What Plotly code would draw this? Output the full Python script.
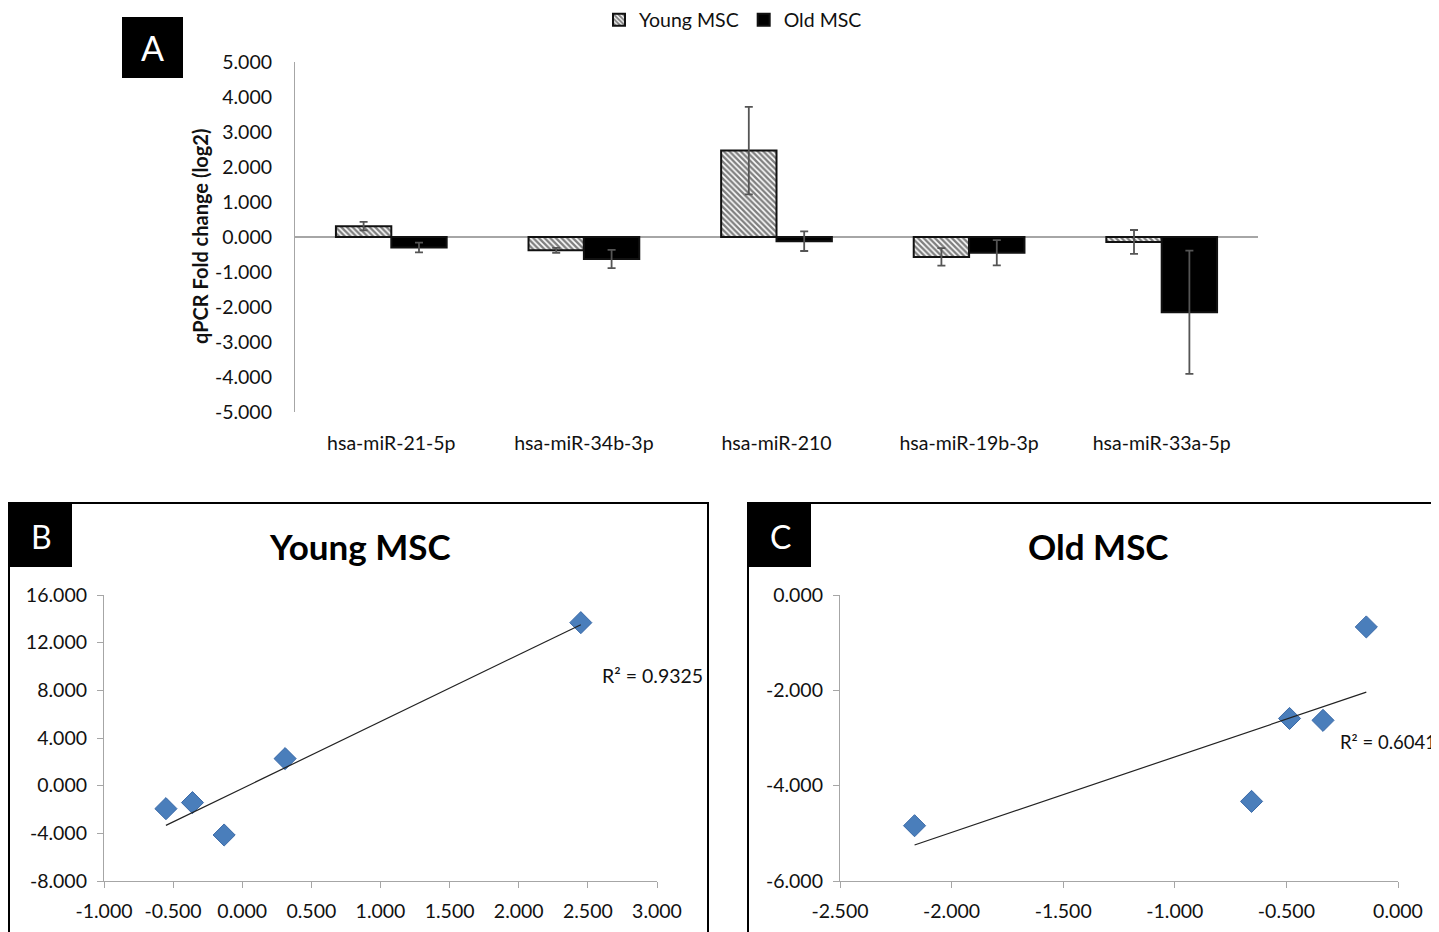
import numpy as np
import plotly.graph_objects as go

W, H = 1439, 932
FONT = "Lato"
OFF = 8  # page body margin of the browser

# ---- Data: panel A ----
categories = ["hsa-miR-21-5p", "hsa-miR-34b-3p", "hsa-miR-210", "hsa-miR-19b-3p", "hsa-miR-33a-5p"]
young = [0.31, -0.38, 2.47, -0.57, -0.14]
young_err = [0.12, 0.07, 1.25, 0.25, 0.34]
old = [-0.30, -0.63, -0.12, -0.45, -2.15]
old_err = [0.14, 0.26, 0.28, 0.36, 1.76]
a_yticks = [5, 4, 3, 2, 1, 0, -1, -2, -3, -4, -5]

# ---- Data: panel B (Young MSC) ----
b_x = [-0.552, -0.36, -0.131, 0.31, 2.449]
b_y = [-1.93, -1.42, -4.14, 2.27, 13.68]
b_xticks = [-1.0, -0.5, 0.0, 0.5, 1.0, 1.5, 2.0, 2.5, 3.0]
b_yticks = [-8, -4, 0, 4, 8, 12, 16]
b_r2 = "R² = 0.9325"

# ---- Data: panel C (Old MSC) ----
c_x = [-2.166, -0.656, -0.486, -0.336, -0.142]
c_y = [-4.84, -4.33, -2.59, -2.63, -0.67]
c_xticks = [-2.5, -2.0, -1.5, -1.0, -0.5, 0.0]
c_yticks = [-6, -4, -2, 0]
c_r2 = "R² = 0.6041"


def px_x(p):
    return (p - OFF) / W


def px_y(p):
    return 1 - (p - OFF) / H


def fmt(v):
    return f"{v:.3f}"


fig = go.Figure()

# Panel A bars
fig.add_trace(go.Bar(
    x=categories, y=young, name="Young MSC",
    marker=dict(color="white", line=dict(color="#111111", width=2),
                pattern=dict(shape="\\", fgcolor="black", bgcolor="white", size=4, solidity=0.6)),
    error_y=dict(type="data", array=young_err, color="#555555", thickness=1.8, width=4),
    xaxis="x", yaxis="y",
))
fig.add_trace(go.Bar(
    x=categories, y=old, name="Old MSC",
    marker=dict(color="black", line=dict(color="#111111", width=2)),
    error_y=dict(type="data", array=old_err, color="#555555", thickness=1.8, width=4),
    xaxis="x", yaxis="y",
))

marker_style = dict(symbol="diamond", size=17, color="#4a7ebb", line=dict(color="#3b6aa8", width=1))

# Panel B scatter + trendline
fig.add_trace(go.Scatter(x=b_x, y=b_y, mode="markers", marker=marker_style,
                         showlegend=False, xaxis="x2", yaxis="y2"))
bs, bi = np.polyfit(b_x, b_y, 1)
bxl = np.array([min(b_x), max(b_x)])
fig.add_trace(go.Scatter(x=bxl, y=bs * bxl + bi, mode="lines", line=dict(color="#222222", width=1.2),
                         showlegend=False, xaxis="x2", yaxis="y2"))

# Panel C scatter + trendline
fig.add_trace(go.Scatter(x=c_x, y=c_y, mode="markers", marker=marker_style,
                         showlegend=False, xaxis="x3", yaxis="y3"))
cs, ci = np.polyfit(c_x, c_y, 1)
cxl = np.array([min(c_x), max(c_x)])
fig.add_trace(go.Scatter(x=cxl, y=cs * cxl + ci, mode="lines", line=dict(color="#222222", width=1.2),
                         showlegend=False, xaxis="x3", yaxis="y3"))

FS = 19.5
tickfont = dict(family=FONT, size=FS, color="#111111")
axis_gray = "#a6a6a6"

common = dict(automargin=False, showgrid=False, fixedrange=True)

fig.update_layout(
    width=W, height=H,
    margin=dict(l=0, r=0, t=0, b=0, pad=0, autoexpand=False),
    paper_bgcolor="white", plot_bgcolor="white",
    font=dict(family=FONT, size=FS, color="#111111"),
    barmode="group", bargap=0.425, bargroupgap=0.0,
    legend=dict(orientation="h", x=px_x(733), y=px_y(20), xanchor="center", yanchor="middle",
                font=dict(family=FONT, size=FS, color="#111111"), itemwidth=30,
                bgcolor="rgba(0,0,0,0)", traceorder="normal"),
    xaxis=dict(domain=[px_x(295), px_x(1258)], anchor="y", showline=False,
               zeroline=False, ticks="outside", ticklen=14, tickcolor="rgba(0,0,0,0)",
               tickfont=tickfont, **common),
    yaxis=dict(domain=[px_y(412), px_y(62)], anchor="x", range=[-5, 5], showline=True,
               linecolor=axis_gray, linewidth=1.2, zeroline=True,
               zerolinecolor=axis_gray, zerolinewidth=1.5,
               tickvals=a_yticks, ticktext=[fmt(v) for v in a_yticks],
               ticks="outside", ticklen=18, tickcolor="rgba(0,0,0,0)", tickfont=tickfont, **common),
    xaxis2=dict(domain=[px_x(104), px_x(657)], anchor="y2", range=[-1, 3], showline=True,
                linecolor=axis_gray, linewidth=1.2, zeroline=False,
                tickvals=b_xticks, ticktext=[fmt(v) for v in b_xticks],
                ticks="outside", ticklen=6, tickcolor=axis_gray, tickfont=tickfont,
                ticklabelstandoff=6, **common),
    yaxis2=dict(domain=[px_y(881), px_y(595)], anchor="x2", range=[-8, 16], showline=True,
                linecolor=axis_gray, linewidth=1.2, zeroline=False,
                tickvals=b_yticks, ticktext=[fmt(v) for v in b_yticks],
                ticks="outside", ticklen=6, tickcolor=axis_gray, tickfont=tickfont,
                ticklabelstandoff=6, **common),
    xaxis3=dict(domain=[px_x(840), px_x(1398)], anchor="y3", range=[-2.5, 0], showline=True,
                linecolor=axis_gray, linewidth=1.2, zeroline=False,
                tickvals=c_xticks, ticktext=[fmt(v) for v in c_xticks],
                ticks="outside", ticklen=6, tickcolor=axis_gray, tickfont=tickfont,
                ticklabelstandoff=6, **common),
    yaxis3=dict(domain=[px_y(881), px_y(595)], anchor="x3", range=[-6, 0], showline=True,
                linecolor=axis_gray, linewidth=1.2, zeroline=False,
                tickvals=c_yticks, ticktext=[fmt(v) for v in c_yticks],
                ticks="outside", ticklen=6, tickcolor=axis_gray, tickfont=tickfont,
                ticklabelstandoff=6, **common),
)

shapes = [
    # letter boxes
    dict(type="rect", xref="paper", yref="paper", x0=px_x(122), x1=px_x(183), y0=px_y(78), y1=px_y(17),
         fillcolor="black", line=dict(width=0), layer="below"),
    dict(type="rect", xref="paper", yref="paper", x0=px_x(9), x1=px_x(72), y0=px_y(567), y1=px_y(503),
         fillcolor="black", line=dict(width=0), layer="below"),
    dict(type="rect", xref="paper", yref="paper", x0=px_x(748), x1=px_x(811), y0=px_y(567), y1=px_y(503),
         fillcolor="black", line=dict(width=0), layer="below"),
    # panel borders
    dict(type="rect", xref="paper", yref="paper", x0=px_x(9), x1=px_x(708), y0=px_y(945), y1=px_y(503),
         line=dict(color="black", width=2)),
    dict(type="rect", xref="paper", yref="paper", x0=px_x(748), x1=px_x(1450), y0=px_y(945), y1=px_y(503),
         line=dict(color="black", width=2)),
]

annotations = [
    dict(text="A", x=px_x(152), y=px_y(47), xref="paper", yref="paper", showarrow=False,
         xanchor="center", yanchor="middle", font=dict(family=FONT, size=34, color="white")),
    dict(text="B", x=px_x(41), y=px_y(536), xref="paper", yref="paper", showarrow=False,
         xanchor="center", yanchor="middle", font=dict(family=FONT, size=32, color="white")),
    dict(text="C", x=px_x(780), y=px_y(536), xref="paper", yref="paper", showarrow=False,
         xanchor="center", yanchor="middle", font=dict(family=FONT, size=32, color="white")),
    dict(text="<b>qPCR Fold change (log2)</b>", x=px_x(200), y=px_y(237), xref="paper", yref="paper",
         xanchor="center", yanchor="middle",
         showarrow=False, textangle=-90, font=dict(family=FONT, size=20, color="#111111")),
    dict(text="<b>Young MSC</b>", x=px_x(360), y=px_y(546), xref="paper", yref="paper",
         xanchor="center", yanchor="middle",
         showarrow=False, font=dict(family=FONT, size=35, color="black")),
    dict(text="<b>Old MSC</b>", x=px_x(1098), y=px_y(546), xref="paper", yref="paper",
         xanchor="center", yanchor="middle",
         showarrow=False, font=dict(family=FONT, size=35, color="black")),
    dict(text=b_r2, x=px_x(600), y=px_y(675), xref="paper", yref="paper", xanchor="left",
         yanchor="middle", showarrow=False, font=dict(family=FONT, size=FS, color="#111111")),
    dict(text=c_r2, x=px_x(1338), y=px_y(742), xref="paper", yref="paper", xanchor="left",
         yanchor="middle", showarrow=False, font=dict(family=FONT, size=18.5, color="#111111")),
]

fig.update_layout(shapes=shapes, annotations=annotations)

fig.write_html("out.html")
